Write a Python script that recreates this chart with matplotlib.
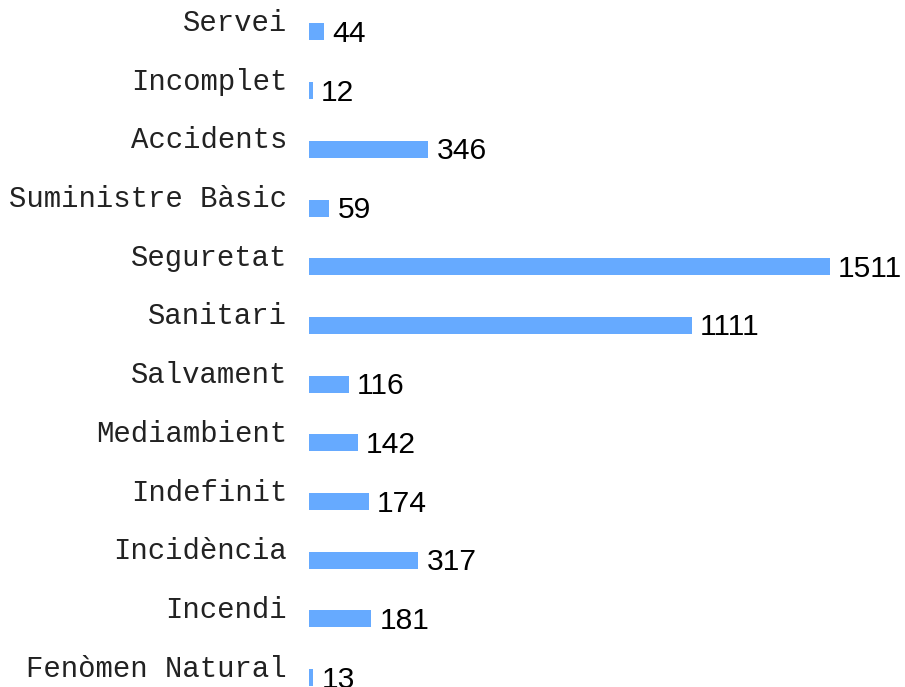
import matplotlib
matplotlib.use("Agg")
import matplotlib.pyplot as plt

categories = ["Servei", "Incomplet", "Accidents", "Suministre Bàsic", "Seguretat",
              "Sanitari", "Salvament", "Mediambient", "Indefinit", "Incidència",
              "Incendi", "Fenòmen Natural"]
values = [44, 12, 346, 59, 1511, 1111, 116, 142, 174, 317, 181, 13]

BAR_COLOR = "#66aaff"

fig = plt.figure(figsize=(9.05, 6.87), dpi=100)
# axes starts where the bars start; labels are drawn to the left of it
ax = fig.add_axes([309 / 905, 0, 596 / 905, 1])
ax.set_xlim(0, 1728)
ax.set_ylim(11.16, -0.545)
ax.axis("off")

pos = list(range(len(categories)))
ax.barh(pos, values, height=0.29, color=BAR_COLOR)

for i, (name, v) in enumerate(zip(categories, values)):
    ax.annotate(name, (0, i), xytext=(-22, 1), textcoords="offset pixels",
                ha="right", va="baseline", fontsize=20.9,
                family=["Liberation Mono", "DejaVu Sans Mono"], color="#222222",
                annotation_clip=False)
    ax.annotate(str(v), (v, i), xytext=(8, -10), textcoords="offset pixels",
                ha="left", va="baseline", fontsize=21.6,
                family=["Liberation Sans", "DejaVu Sans"], color="black",
                annotation_clip=False)

fig.savefig("out.png", dpi=100)
